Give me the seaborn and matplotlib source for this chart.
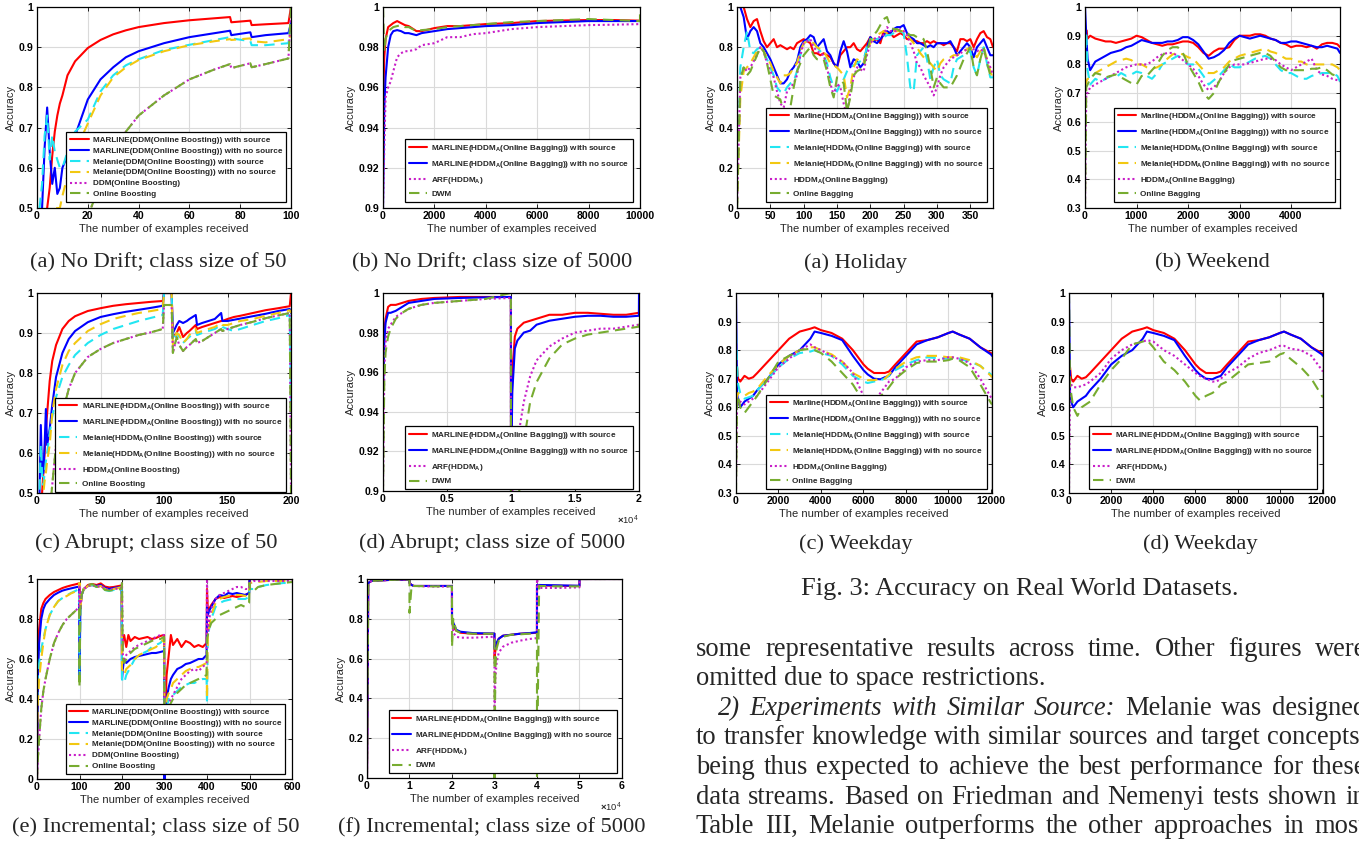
import numpy as np
import pandas as pd
import seaborn as sns
import matplotlib.pyplot as plt
from matplotlib.ticker import FuncFormatter

sns.set_style("white")
plt.rcParams['font.family'] = ['Liberation Sans', 'DejaVu Sans']
plt.rcParams['font.weight'] = 'bold'
plt.rcParams['mathtext.fontset'] = 'custom'
plt.rcParams['mathtext.rm'] = 'Liberation Sans'
plt.rcParams['mathtext.bf'] = 'Liberation Sans:bold'
plt.rcParams['mathtext.it'] = 'Liberation Sans:italic'

W, H = 1359, 850
SERIF = ['Liberation Serif', 'DejaVu Serif']

# ---------------- data ----------------
# (a) no drift, class size 50
a1_x = [1, 2, 3, 4, 5, 6, 7, 8, 9, 10, 12, 15, 20, 25, 30, 35, 40, 50, 60, 70, 76, 76.5, 84, 84.5, 90, 99, 100]
a1_red = [0.40, 0.45, 0.48, 0.50, 0.55, 0.63, 0.69, 0.73, 0.76, 0.78, 0.83, 0.865, 0.898, 0.918, 0.932, 0.942, 0.95,
          0.96, 0.967, 0.972, 0.975, 0.962, 0.966, 0.955, 0.957, 0.96, 1.0]
a1_blue = [0.40, 0.50, 0.65, 0.75, 0.64, 0.56, 0.60, 0.535, 0.55, 0.60, 0.63, 0.68, 0.77, 0.82, 0.85, 0.875, 0.89,
           0.91, 0.925, 0.935, 0.941, 0.93, 0.937, 0.925, 0.93, 0.935, 0.96]
a1_cyan = [0.50, 0.56, 0.68, 0.73, 0.62, 0.68, 0.64, 0.62, 0.60, 0.60, 0.64, 0.69, 0.72, 0.79, 0.83, 0.855, 0.87,
           0.893, 0.906, 0.918, 0.925, 0.922, 0.915, 0.905, 0.905, 0.91, 0.97]
a1_yellow = [0.40, 0.40, 0.40, 0.45, 0.48, 0.50, 0.50, 0.50, 0.50, 0.53, 0.58, 0.64, 0.71, 0.78, 0.825, 0.85, 0.868,
             0.89, 0.905, 0.915, 0.92, 0.918, 0.922, 0.915, 0.912, 0.92, 0.93]
a1_magenta = [0.20, 0.23, 0.26, 0.28, 0.30, 0.32, 0.33, 0.35, 0.36, 0.38, 0.41, 0.44, 0.48, 0.56, 0.64, 0.69, 0.73,
              0.78, 0.82, 0.845, 0.858, 0.848, 0.86, 0.85, 0.858, 0.872, 1.0]
a1_green = a1_magenta

# (b) no drift, class size 5000
a2_x = [0, 50, 100, 200, 300, 400, 550, 700, 850, 1000, 1300, 1500, 2000, 2500, 3000, 3500, 4000, 5000, 6000, 7000,
        8000, 9000, 10000, 10000]
a2_red = [0.95, 0.975, 0.984, 0.99, 0.991, 0.992, 0.993, 0.992, 0.991, 0.9905, 0.988, 0.988, 0.9895, 0.9905, 0.9905,
          0.991, 0.9915, 0.992, 0.993, 0.9933, 0.9935, 0.9935, 0.9932, 0.9932]
a2_blue = [0.90, 0.95, 0.965, 0.98, 0.986, 0.988, 0.9885, 0.988, 0.987, 0.987, 0.986, 0.987, 0.988, 0.989, 0.9895,
           0.99, 0.9905, 0.991, 0.992, 0.9925, 0.993, 0.993, 0.993, 0.993]
a2_magenta = [0.90, 0.93, 0.955, 0.96, 0.963, 0.968, 0.975, 0.977, 0.978, 0.978, 0.979, 0.981, 0.982, 0.985, 0.985,
              0.9865, 0.987, 0.989, 0.99, 0.9905, 0.991, 0.9912, 0.9915, 0.9915]
a2_green = [1.0, 0.978, 0.984, 0.988, 0.989, 0.99, 0.9905, 0.991, 0.99, 0.99, 0.988, 0.9885, 0.989, 0.99, 0.9905,
            0.991, 0.9915, 0.9925, 0.993, 0.9935, 0.994, 0.9935, 0.993, 1.0]

# (a) holiday
r1_x = list(range(0, 381, 5)) + [384]
r1_red = [1.0, 1.0, 1.0, 0.94, 0.9, 0.93, 0.94, 0.88, 0.83, 0.8,
          0.82, 0.84, 0.8, 0.81, 0.8, 0.79, 0.8, 0.79, 0.82, 0.83,
          0.84, 0.83, 0.82, 0.77, 0.77, 0.76, 0.77, 0.76, 0.75, 0.72,
          0.7, 0.76, 0.78, 0.8, 0.8, 0.82, 0.79, 0.78, 0.8, 0.82,
          0.85, 0.83, 0.84, 0.82, 0.88, 0.87, 0.87, 0.85, 0.86, 0.87,
          0.86, 0.84, 0.84, 0.83, 0.83, 0.82, 0.82, 0.83, 0.82, 0.83,
          0.82, 0.82, 0.81, 0.82, 0.82, 0.8, 0.78, 0.84, 0.84, 0.83,
          0.84, 0.8, 0.84, 0.87, 0.88, 0.85, 0.84, 0.8]
r1_blue = [1.0, 1.0, 0.95, 0.84, 0.88, 0.9, 0.88, 0.82, 0.8, 0.77,
           0.74, 0.7, 0.66, 0.62, 0.62, 0.64, 0.68, 0.7, 0.73, 0.8,
           0.83, 0.84, 0.86, 0.85, 0.8, 0.82, 0.84, 0.78, 0.76, 0.72,
           0.7, 0.78, 0.83, 0.78, 0.7, 0.74, 0.73, 0.7, 0.72, 0.8,
           0.85, 0.83, 0.82, 0.84, 0.86, 0.88, 0.87, 0.89, 0.9, 0.9,
           0.91, 0.87, 0.85, 0.84, 0.82, 0.82, 0.81, 0.8, 0.81, 0.8,
           0.82, 0.82, 0.82, 0.82, 0.83, 0.8, 0.76, 0.78, 0.8, 0.82,
           0.8, 0.75, 0.8, 0.82, 0.84, 0.8, 0.76, 0.76]
r1_cyan = [0.0, 0.7, 0.8, 0.88, 0.78, 0.77, 0.79, 0.8, 0.78, 0.74,
           0.7, 0.66, 0.6, 0.58, 0.57, 0.6, 0.62, 0.63, 0.68, 0.76,
           0.82, 0.83, 0.84, 0.82, 0.8, 0.78, 0.76, 0.72, 0.65, 0.6,
           0.58, 0.62, 0.64, 0.68, 0.7, 0.71, 0.72, 0.73, 0.74, 0.8,
           0.84, 0.84, 0.84, 0.85, 0.85, 0.86, 0.86, 0.87, 0.88, 0.88,
           0.87, 0.75, 0.6, 0.58, 0.76, 0.78, 0.8, 0.74, 0.64, 0.7,
           0.74, 0.66, 0.64, 0.63, 0.62, 0.7, 0.74, 0.75, 0.76, 0.77,
           0.78, 0.7, 0.66, 0.74, 0.8, 0.72, 0.65, 0.65]
r1_yellow = [0.0, 0.55, 0.68, 0.7, 0.72, 0.75, 0.78, 0.8, 0.78, 0.75,
             0.72, 0.68, 0.65, 0.62, 0.66, 0.66, 0.67, 0.7, 0.72, 0.78,
             0.82, 0.83, 0.83, 0.82, 0.8, 0.79, 0.78, 0.75, 0.72, 0.71,
             0.7, 0.68, 0.66, 0.55, 0.6, 0.7, 0.74, 0.73, 0.72, 0.78,
             0.82, 0.84, 0.86, 0.87, 0.88, 0.87, 0.87, 0.88, 0.88, 0.88,
             0.88, 0.86, 0.84, 0.82, 0.8, 0.77, 0.75, 0.73, 0.72, 0.7,
             0.68, 0.72, 0.74, 0.75, 0.75, 0.76, 0.76, 0.77, 0.78, 0.79,
             0.8, 0.77, 0.75, 0.78, 0.8, 0.74, 0.68, 0.64]
r1_magenta = [0.0, 0.65, 0.7, 0.68, 0.7, 0.73, 0.76, 0.8, 0.78, 0.72,
              0.68, 0.65, 0.58, 0.52, 0.5, 0.58, 0.6, 0.62, 0.66, 0.76,
              0.82, 0.83, 0.84, 0.8, 0.78, 0.77, 0.76, 0.7, 0.62, 0.56,
              0.62, 0.6, 0.52, 0.46, 0.58, 0.65, 0.7, 0.69, 0.68, 0.76,
              0.82, 0.84, 0.85, 0.85, 0.86, 0.9, 0.88, 0.88, 0.88, 0.89,
              0.88, 0.86, 0.82, 0.78, 0.72, 0.7, 0.66, 0.63, 0.6, 0.56,
              0.6, 0.66, 0.7, 0.72, 0.74, 0.75, 0.76, 0.77, 0.78, 0.79,
              0.8, 0.79, 0.78, 0.79, 0.78, 0.74, 0.7, 0.66]
r1_green = [0.0, 0.64, 0.7, 0.66, 0.68, 0.72, 0.76, 0.8, 0.78, 0.72,
            0.64, 0.56, 0.55, 0.54, 0.48, 0.42, 0.5, 0.6, 0.68, 0.72,
            0.76, 0.78, 0.8, 0.76, 0.74, 0.74, 0.74, 0.68, 0.6, 0.55,
            0.65, 0.64, 0.62, 0.48, 0.55, 0.66, 0.68, 0.69, 0.7, 0.78,
            0.84, 0.86, 0.88, 0.91, 0.94, 0.95, 0.9, 0.89, 0.89, 0.88,
            0.88, 0.87, 0.86, 0.86, 0.85, 0.85, 0.84, 0.78, 0.7, 0.6,
            0.65, 0.62, 0.6, 0.6, 0.6, 0.63, 0.66, 0.7, 0.74, 0.77,
            0.8, 0.7, 0.66, 0.74, 0.8, 0.72, 0.66, 0.64]

# (b) weekend
r2_x = [0, 25, 50, 100] + list(range(200, 4901, 100)) + [4950]
r2_red = [0.85, 0.92, 0.89, 0.9,
          0.89, 0.885, 0.88, 0.88, 0.875, 0.88, 0.885, 0.89, 0.9, 0.895,
          0.885, 0.875, 0.87, 0.865, 0.87, 0.87, 0.875, 0.88, 0.88, 0.875,
          0.86, 0.84, 0.83, 0.845, 0.855, 0.855, 0.86, 0.885, 0.9, 0.9,
          0.9, 0.905, 0.905, 0.9, 0.89, 0.885, 0.875, 0.87, 0.86, 0.865,
          0.865, 0.86, 0.865, 0.855, 0.87, 0.875, 0.875, 0.87,
          0.86]
r2_blue = [1.0, 0.9, 0.82, 0.78,
           0.81, 0.82, 0.83, 0.84, 0.845, 0.85, 0.86, 0.865, 0.875, 0.885,
           0.88, 0.875, 0.875, 0.875, 0.88, 0.88, 0.885, 0.895, 0.895, 0.885,
           0.87, 0.845, 0.82, 0.825, 0.835, 0.85, 0.875, 0.89, 0.9, 0.895,
           0.89, 0.895, 0.9, 0.895, 0.89, 0.885, 0.875, 0.875, 0.88, 0.88,
           0.875, 0.87, 0.865, 0.86, 0.86, 0.865, 0.86, 0.855,
           0.84]
r2_cyan = [0.8, 0.91, 0.78, 0.73,
           0.75, 0.74, 0.75, 0.76, 0.755, 0.77, 0.76, 0.765, 0.775, 0.77,
           0.76, 0.75, 0.77, 0.8, 0.81, 0.82, 0.83, 0.82, 0.8, 0.8,
           0.785, 0.76, 0.73, 0.745, 0.76, 0.78, 0.8, 0.79, 0.79, 0.8,
           0.81, 0.82, 0.825, 0.83, 0.82, 0.8, 0.78, 0.77, 0.77, 0.76,
           0.75, 0.75, 0.76, 0.765, 0.77, 0.77, 0.77, 0.76,
           0.74]
r2_yellow = [0.72, 0.74, 0.75, 0.75,
             0.77, 0.78, 0.79, 0.8, 0.81, 0.815, 0.82, 0.815, 0.8, 0.8,
             0.79, 0.785, 0.79, 0.8, 0.82, 0.835, 0.84, 0.835, 0.825, 0.82,
             0.8, 0.78, 0.77, 0.77, 0.78, 0.79, 0.81, 0.82, 0.83, 0.835,
             0.84, 0.845, 0.85, 0.855, 0.845, 0.84, 0.83, 0.82, 0.82, 0.81,
             0.81, 0.8, 0.8, 0.8, 0.8, 0.8, 0.8, 0.79,
             0.78]
r2_magenta = [0.3, 0.7, 0.7, 0.72,
              0.73, 0.74, 0.75, 0.76, 0.77, 0.78, 0.79, 0.795, 0.8, 0.8,
              0.8, 0.81, 0.825, 0.835, 0.84, 0.84, 0.83, 0.815, 0.8, 0.785,
              0.76, 0.73, 0.71, 0.72, 0.74, 0.77, 0.79, 0.8, 0.8, 0.8,
              0.805, 0.81, 0.815, 0.82, 0.82, 0.815, 0.8, 0.79, 0.78, 0.79,
              0.8, 0.81, 0.82, 0.78, 0.765, 0.76, 0.75, 0.745,
              0.74]
r2_green = [0.3, 0.72, 0.73, 0.75,
            0.77, 0.765, 0.755, 0.76, 0.765, 0.755, 0.745, 0.735, 0.73, 0.76,
            0.76, 0.78, 0.8, 0.83, 0.85, 0.86, 0.86, 0.84, 0.8, 0.77,
            0.74, 0.7, 0.68, 0.7, 0.74, 0.77, 0.8, 0.815, 0.82, 0.825,
            0.83, 0.835, 0.84, 0.84, 0.83, 0.81, 0.79, 0.78, 0.78, 0.78,
            0.78, 0.78, 0.785, 0.785, 0.79, 0.78, 0.765, 0.76,
            0.755]

# (c) abrupt, class size 50
c_x = [1, 2, 3, 4, 5, 6, 7, 8, 10, 12, 15, 20, 25, 30, 40, 50, 60, 70, 80, 90, 99, 100, 105, 106, 107,
       110, 112, 115, 118, 120, 125, 126, 130, 140, 145, 146, 150, 155, 160, 170, 180, 190, 199, 200]
c_red = [0.3, 0.35, 0.4, 0.5, 0.55, 0.6, 0.66, 0.7, 0.78, 0.83, 0.87, 0.91, 0.93, 0.942,
         0.955, 0.962, 0.968, 0.972, 0.975, 0.978, 0.98, 1.0, 1.0, 1.0, 0.89,
         0.9, 0.915, 0.89, 0.9, 0.905, 0.92, 0.91, 0.915,
         0.925, 0.93, 0.93, 0.935, 0.94, 0.943, 0.95, 0.957, 0.962, 0.967, 1.0]
c_blue = [0.3, 0.5, 0.67, 0.55, 0.55, 0.62, 0.71, 0.62, 0.66, 0.72, 0.79, 0.85, 0.885, 0.905,
          0.927, 0.94, 0.947, 0.953, 0.958, 0.963, 0.968, 1.0, 1.0, 1.0, 0.9,
          0.92, 0.93, 0.925, 0.93, 0.935, 0.945, 0.92, 0.925,
          0.935, 0.95, 0.93, 0.93, 0.933, 0.936, 0.942, 0.948, 0.955, 0.96, 0.95]
c_cyan = [0.3, 0.5, 0.62, 0.55, 0.52, 0.55, 0.58, 0.6, 0.65, 0.69, 0.74, 0.79, 0.82, 0.845,
          0.875, 0.895, 0.91, 0.92, 0.93, 0.938, 0.945, 1.0, 1.0, 1.0, 0.88,
          0.9, 0.89, 0.875, 0.885, 0.89, 0.905, 0.895, 0.9,
          0.91, 0.92, 0.915, 0.91, 0.905, 0.91, 0.92, 0.93, 0.937, 0.945, 0.7]
c_yellow = [0.3, 0.35, 0.4, 0.45, 0.5, 0.53, 0.55, 0.58, 0.62, 0.7, 0.76, 0.82, 0.855, 0.875,
            0.905, 0.922, 0.935, 0.943, 0.95, 0.955, 0.96, 1.0, 1.0, 1.0, 0.87,
            0.9, 0.895, 0.875, 0.885, 0.895, 0.91, 0.9, 0.905,
            0.915, 0.925, 0.92, 0.92, 0.925, 0.93, 0.935, 0.943, 0.95, 0.957, 0.95]
c_magenta = [0.2, 0.22, 0.25, 0.27, 0.3, 0.32, 0.35, 0.38, 0.45, 0.52, 0.62, 0.7, 0.76, 0.8,
             0.84, 0.86, 0.875, 0.885, 0.895, 0.902, 0.91, 0.97, 0.97, 0.97, 0.85,
             0.89, 0.87, 0.855, 0.865, 0.87, 0.885, 0.875, 0.88,
             0.9, 0.91, 0.905, 0.91, 0.915, 0.92, 0.928, 0.937, 0.944, 0.95, 0.5]
c_green = c_magenta

# (d) abrupt, class size 5000
d_x = [0, 100, 200, 400, 600, 1000, 1500, 2000, 3000, 4000, 6000, 8000, 9990,
       10000, 10100, 10300, 10500, 11000, 11500, 12000, 13000, 14000, 15000, 16000, 17000, 18000, 19000, 19990, 20000]
d_red = [0.96, 0.98, 0.987, 0.993, 0.994, 0.994, 0.995, 0.996, 0.997, 0.9975, 0.998, 0.998, 0.998,
         0.91, 0.96, 0.978, 0.982, 0.985, 0.986, 0.987, 0.989, 0.989, 0.99, 0.99, 0.9895, 0.989, 0.989, 0.99, 0.99]
d_blue = [0.95, 0.975, 0.985, 0.99, 0.99, 0.991, 0.993, 0.995, 0.996, 0.997, 0.9975, 0.9978, 0.998,
          0.9, 0.95, 0.972, 0.976, 0.98, 0.981, 0.984, 0.986, 0.987, 0.988, 0.9885, 0.9885, 0.988, 0.988, 0.9885, 1.0]
d_magenta = [0.9, 0.96, 0.975, 0.982, 0.984, 0.988, 0.99, 0.992, 0.994, 0.995, 0.996, 0.997, 0.9975,
             0.9, 0.9, 0.91, 0.925, 0.945, 0.958, 0.966, 0.973, 0.977, 0.98, 0.981, 0.982, 0.982, 0.983, 0.984, 0.984]
d_green = [0.9, 0.955, 0.97, 0.978, 0.982, 0.987, 0.99, 0.992, 0.994, 0.995, 0.996, 0.997, 1.0,
           0.9, 0.89, 0.88, 0.89, 0.925, 0.945, 0.955, 0.967, 0.974, 0.977, 0.979, 0.98, 0.981, 0.982, 0.983, 0.985]

# (e) incremental, class size 50
e_x = [0, 2, 5, 10, 15, 20, 30, 40, 50, 60, 70, 80, 90, 99,
       100, 102, 105, 110, 120, 130, 140, 150, 160, 170, 180, 190, 199,
       200, 202, 205, 210, 215, 220, 230, 240, 250, 260, 270, 280, 290, 299,
       300, 302, 305, 310, 315, 320, 330, 340, 350, 360, 370, 380, 390, 399,
       400, 402, 405, 410, 420, 430, 440, 450, 460, 470, 480, 490, 499,
       500, 502, 510, 520, 540, 560, 580, 600]
e_red = [0.0, 0.6, 0.75, 0.85, 0.88, 0.9, 0.92, 0.935, 0.945, 0.955, 0.962, 0.968, 0.973, 0.978,
         0.96, 0.85, 0.92, 0.95, 0.97, 0.975, 0.97, 0.978, 0.962, 0.958, 0.96, 0.964, 0.968,
         0.62, 0.7, 0.72, 0.66, 0.72, 0.69, 0.71, 0.7, 0.705, 0.71, 0.7, 0.705, 0.715, 0.72,
         0.0, 0.35, 0.52, 0.62, 0.72, 0.67, 0.7, 0.66, 0.69, 0.68, 0.66, 0.67, 0.66, 0.68,
         0.95, 0.84, 0.85, 0.87, 0.9, 0.91, 0.905, 0.91, 0.915, 0.91, 0.915, 0.92, 0.93,
         1.0, 1.0, 1.0, 1.0, 1.0, 1.0, 1.0, 1.0]
e_blue = [0.0, 0.5, 0.68, 0.8, 0.85, 0.875, 0.9, 0.92, 0.932, 0.942, 0.948, 0.953, 0.958, 0.962,
          0.5, 0.85, 0.92, 0.95, 0.965, 0.97, 0.965, 0.97, 0.955, 0.95, 0.955, 0.958, 0.962,
          0.5, 0.55, 0.6, 0.58, 0.59, 0.6, 0.61, 0.615, 0.62, 0.625, 0.63, 0.63, 0.635, 0.64,
          0.0, 0.3, 0.4, 0.46, 0.5, 0.52, 0.55, 0.56, 0.575, 0.58, 0.59, 0.6, 0.6, 0.62,
          0.86, 0.82, 0.84, 0.86, 0.9, 0.92, 0.915, 0.93, 0.925, 0.93, 0.925, 0.92, 0.93,
          1.0, 1.0, 1.0, 1.0, 1.0, 1.0, 1.0, 1.0]
e_cyan = [0.3, 0.52, 0.58, 0.65, 0.7, 0.75, 0.82, 0.86, 0.89, 0.905, 0.918, 0.93, 0.94, 0.95,
          0.5, 0.85, 0.92, 0.95, 0.965, 0.97, 0.96, 0.965, 0.945, 0.94, 0.945, 0.95, 0.955,
          0.5, 0.49, 0.48, 0.52, 0.54, 0.56, 0.6, 0.62, 0.63, 0.64, 0.66, 0.67, 0.68, 0.7,
          0.3, 0.33, 0.35, 0.4, 0.42, 0.42, 0.44, 0.46, 0.47, 0.48, 0.48, 0.49, 0.5, 0.5,
          0.38, 0.72, 0.75, 0.8, 0.86, 0.88, 0.89, 0.895, 0.9, 0.9, 0.9, 0.9, 0.91,
          0.96, 0.95, 0.95, 0.96, 0.97, 0.975, 0.98, 0.98]
e_yellow = [0.2, 0.38, 0.5, 0.6, 0.68, 0.75, 0.82, 0.86, 0.89, 0.905, 0.915, 0.928, 0.937, 0.945,
            0.98, 0.85, 0.92, 0.95, 0.965, 0.97, 0.96, 0.965, 0.95, 0.945, 0.95, 0.955, 0.96,
            0.55, 0.54, 0.52, 0.55, 0.56, 0.57, 0.6, 0.62, 0.63, 0.64, 0.65, 0.66, 0.68, 0.7,
            0.3, 0.35, 0.4, 0.43, 0.45, 0.48, 0.5, 0.52, 0.54, 0.55, 0.56, 0.56, 0.57, 0.58,
            0.4, 0.72, 0.76, 0.82, 0.88, 0.9, 0.91, 0.915, 0.92, 0.92, 0.92, 0.915, 0.93,
            0.98, 0.98, 0.985, 0.985, 0.99, 0.99, 0.99, 0.99]
e_magenta = [0.0, 0.1, 0.2, 0.35, 0.44, 0.5, 0.6, 0.68, 0.73, 0.77, 0.8, 0.82, 0.84, 0.86,
             0.97, 0.85, 0.92, 0.95, 0.965, 0.97, 0.96, 0.965, 0.95, 0.948, 0.95, 0.952, 0.955,
             0.98, 0.62, 0.6, 0.62, 0.63, 0.64, 0.66, 0.67, 0.68, 0.69, 0.7, 0.71, 0.72, 0.72,
             0.4, 0.33, 0.32, 0.38, 0.4, 0.42, 0.46, 0.5, 0.52, 0.54, 0.55, 0.54, 0.56, 0.58,
             1.0, 0.72, 0.8, 0.85, 0.9, 0.92, 0.93, 0.94, 0.95, 0.96, 0.96, 0.95, 0.95,
             0.98, 0.98, 0.99, 0.99, 0.99, 0.99, 0.99, 0.99]
e_green = [0.0, 0.1, 0.2, 0.35, 0.44, 0.5, 0.6, 0.68, 0.73, 0.77, 0.8, 0.82, 0.84, 0.86,
           0.46, 0.85, 0.92, 0.95, 0.97, 0.975, 0.96, 0.965, 0.945, 0.942, 0.945, 0.948, 0.95,
           0.98, 0.6, 0.58, 0.6, 0.62, 0.63, 0.65, 0.66, 0.67, 0.68, 0.69, 0.7, 0.7, 0.71,
           0.35, 0.3, 0.3, 0.36, 0.38, 0.4, 0.43, 0.45, 0.47, 0.48, 0.49, 0.5, 0.51, 0.52,
           0.7, 0.72, 0.75, 0.78, 0.8, 0.82, 0.83, 0.84, 0.85, 0.86, 0.87, 0.86, 0.88,
           0.98, 0.94, 0.94, 0.96, 0.97, 0.975, 0.98, 0.985]

# (f) incremental, class size 5000
f_x = [0, 300, 1000, 5000, 9990, 10000, 10500, 11000, 15000, 19990,
       20000, 20300, 21000, 22000, 25000, 29990,
       30000, 30200, 30500, 31000, 32000, 34000, 36000, 38000, 39990,
       40000, 40500, 45000, 49990, 50000, 55000, 60000]
f_red = [0.0, 0.98, 0.99, 0.995, 0.998, 0.98, 0.97, 0.965, 0.965, 0.965,
         0.8, 0.76, 0.74, 0.73, 0.725, 0.725,
         0.6, 0.64, 0.67, 0.7, 0.715, 0.72, 0.725, 0.727, 0.73,
         0.97, 0.968, 0.966, 0.965, 1.0, 1.0, 1.0]
f_blue = [0.0, 0.98, 0.99, 0.995, 0.998, 0.98, 0.97, 0.965, 0.965, 0.965,
          0.8, 0.78, 0.745, 0.735, 0.728, 0.726,
          0.65, 0.67, 0.68, 0.7, 0.715, 0.72, 0.725, 0.728, 0.732,
          0.97, 0.97, 0.968, 0.966, 1.0, 1.0, 1.0]
f_magenta = [0.0, 0.97, 0.99, 0.995, 0.998, 0.98, 0.97, 0.965, 0.962, 0.962,
             0.8, 0.73, 0.71, 0.705, 0.705, 0.71,
             0.3, 0.5, 0.58, 0.63, 0.66, 0.68, 0.69, 0.698, 0.703,
             1.0, 0.955, 0.955, 0.958, 1.0, 1.0, 1.0]
f_green = [0.0, 0.98, 0.99, 0.995, 0.998, 0.83, 0.97, 0.965, 0.963, 0.963,
           0.66, 0.8, 0.74, 0.73, 0.725, 0.725,
           0.0, 0.55, 0.65, 0.69, 0.71, 0.72, 0.722, 0.725, 0.728,
           0.0, 0.965, 0.963, 0.963, 1.0, 1.0, 1.0]

# (c)/(d) weekday
wd_x = [0, 50, 100, 200, 400, 600, 800, 1000,
        1500, 2000, 2500, 3000, 3500, 3700, 4000, 4500, 5000, 5500, 6000, 6200, 6500, 6800,
        7000, 7200, 7500, 8000, 8500, 9000, 9500, 10000, 10200, 10500, 11000, 11500, 12000, 12050]
wd_red = [0.75, 0.74, 0.7, 0.69, 0.71, 0.7, 0.705, 0.72,
          0.76, 0.8, 0.84, 0.865, 0.875, 0.88, 0.87, 0.86, 0.84, 0.8, 0.75, 0.735, 0.72, 0.72,
          0.72, 0.725, 0.75, 0.79, 0.83, 0.835, 0.845, 0.86, 0.865, 0.855, 0.84, 0.81, 0.79, 0.785]
wd_blue = [1.0, 0.65, 0.62, 0.6, 0.62, 0.63, 0.64, 0.66,
           0.7, 0.75, 0.78, 0.8, 0.84, 0.865, 0.86, 0.85, 0.835, 0.78, 0.73, 0.715, 0.7, 0.698,
           0.705, 0.71, 0.74, 0.78, 0.82, 0.835, 0.845, 0.86, 0.865, 0.855, 0.84, 0.81, 0.785, 0.78]
wd_cyan = [0.86, 0.75, 0.68, 0.65, 0.63, 0.635, 0.64, 0.66,
           0.7, 0.74, 0.77, 0.79, 0.795, 0.8, 0.79, 0.78, 0.75, 0.71, 0.69, 0.685, 0.69, 0.695,
           0.7, 0.71, 0.73, 0.75, 0.765, 0.775, 0.772, 0.77, 0.77, 0.77, 0.76, 0.745, 0.715, 0.71]
wd_yellow = [0.62, 0.64, 0.65, 0.645, 0.64, 0.65, 0.655, 0.665,
             0.71, 0.75, 0.78, 0.8, 0.81, 0.81, 0.8, 0.785, 0.76, 0.72, 0.7, 0.695, 0.695, 0.7,
             0.7, 0.715, 0.735, 0.76, 0.775, 0.78, 0.78, 0.775, 0.775, 0.775, 0.765, 0.745, 0.71, 0.705]
wd_magenta = [0.34, 0.6, 0.62, 0.62, 0.61, 0.62, 0.63, 0.64,
              0.69, 0.74, 0.77, 0.8, 0.82, 0.81, 0.8, 0.78, 0.76, 0.72, 0.64, 0.63, 0.63, 0.65,
              0.67, 0.69, 0.7, 0.74, 0.76, 0.765, 0.765, 0.775, 0.775, 0.77, 0.755, 0.7, 0.635, 0.63]
wd_green = [0.3, 0.62, 0.64, 0.6, 0.58, 0.6, 0.62, 0.64,
            0.7, 0.76, 0.78, 0.8, 0.805, 0.8, 0.79, 0.76, 0.72, 0.68, 0.62, 0.62, 0.635, 0.64,
            0.65, 0.67, 0.7, 0.73, 0.755, 0.76, 0.76, 0.765, 0.77, 0.765, 0.74, 0.68, 0.615, 0.61]
wd_arf = [0.3, 0.7, 0.68, 0.67, 0.67, 0.675, 0.68, 0.69,
          0.72, 0.77, 0.8, 0.82, 0.83, 0.835, 0.83, 0.8, 0.78, 0.75, 0.72, 0.71, 0.7, 0.69,
          0.69, 0.7, 0.72, 0.74, 0.77, 0.79, 0.8, 0.815, 0.815, 0.805, 0.8, 0.78, 0.73, 0.725]
wd_dwm = [1.0, 0.68, 0.65, 0.6, 0.57, 0.6, 0.61, 0.62,
          0.68, 0.73, 0.77, 0.82, 0.83, 0.835, 0.81, 0.76, 0.73, 0.69, 0.64, 0.625, 0.64, 0.65,
          0.66, 0.68, 0.69, 0.72, 0.75, 0.755, 0.76, 0.785, 0.79, 0.77, 0.74, 0.7, 0.64, 0.635]

# legend texts
sub = r'$_\mathbf{A}$'
lab_ddm = ['MARLINE(DDM(Online Boosting)) with source', 'MARLINE(DDM(Online Boosting)) with no source',
           'Melanie(DDM(Online Boosting)) with source', 'Melanie(DDM(Online Boosting)) with no source',
           'DDM(Online Boosting)', 'Online Boosting']
lab_hb = ['MARLINE(HDDM' + sub + '(Online Boosting)) with source',
          'MARLINE(HDDM' + sub + '(Online Boosting)) with no source',
          'Melanie(HDDM' + sub + '(Online Boosting)) with source',
          'Melanie(HDDM' + sub + '(Online Boosting)) with no source',
          'HDDM' + sub + '(Online Boosting)', 'Online Boosting']
lab_arf = ['MARLINE(HDDM' + sub + '(Online Bagging)) with source',
           'MARLINE(HDDM' + sub + '(Online Bagging)) with no source',
           'ARF(HDDM' + sub + ')', 'DWM']
lab_real = ['Marline(HDDM' + sub + '(Online Bagging)) with source',
            'Marline(HDDM' + sub + '(Online Bagging)) with no source',
            'Melanie(HDDM' + sub + '(Online Bagging)) with source',
            'Melanie(HDDM' + sub + '(Online Bagging)) with no source',
            'HDDM' + sub + '(Online Bagging)', 'Online Bagging']

STY = {
    'red': dict(color='#FF0000', linestyle='-'),
    'blue': dict(color='#0000FF', linestyle='-'),
    'cyan': dict(color='#22E6F2', linestyle=(0, (5, 3))),
    'yellow': dict(color='#F2C811', linestyle=(0, (5, 3))),
    'magenta': dict(color='#C81EC8', linestyle=(0, (1, 1.3))),
    'green': dict(color='#77AC30', linestyle=(0, (5, 3))),
}
six = ['red', 'blue', 'cyan', 'yellow', 'magenta', 'green']
four = ['red', 'blue', 'magenta', 'green']


def make_ax(fig, l, t, r, b):
    return fig.add_axes([l / W, 1 - b / H, (r - l) / W, (b - t) / H])


def panel(ax, x, ys, keys, labels, xlim, xticks, ylim, yticks, anchor, spacing, xscale=1):
    for y, k, lab in zip(ys, keys, labels):
        d = pd.DataFrame({'x': x, 'y': y})
        sns.lineplot(data=d, x='x', y='y', ax=ax, estimator=None, sort=False,
                     label=lab, linewidth=1.5, **STY[k])
    ax.set_xlim(*xlim)
    ax.set_ylim(*ylim)
    ax.set_xticks(xticks)
    ax.set_yticks(yticks)
    ax.xaxis.set_major_formatter(FuncFormatter(lambda v, p: '%g' % (v / xscale)))
    ax.yaxis.set_major_formatter(FuncFormatter(lambda v, p: '%g' % round(v, 3)))
    ax.grid(True, color='#DADADA', linewidth=0.8)
    ax.set_axisbelow(True)
    ax.tick_params(direction='in', length=3, width=0.6, top=True, right=True, bottom=True, left=True,
                   pad=2.5, labelsize=7.6, colors='black')
    for lab in ax.get_xticklabels() + ax.get_yticklabels():
        lab.set_fontweight('bold')
    for s in ax.spines.values():
        s.set_color('black')
        s.set_linewidth(0.9)
    ax.set_xlabel('The number of examples received', fontsize=8, labelpad=1.5)
    ax.set_ylabel('Accuracy', fontsize=8, labelpad=2)
    leg = ax.legend(loc='lower right', bbox_to_anchor=anchor, borderaxespad=0, fancybox=False,
                    framealpha=1, edgecolor='black', fontsize=5.85, handlelength=2.3,
                    handletextpad=0.5, labelspacing=spacing, borderpad=0.45)
    leg.get_frame().set_linewidth(0.9)
    if xscale != 1:
        ax.text(1.0, -0.115, r'$\times\mathregular{10^4}$', transform=ax.transAxes,
                ha='right', va='top', fontsize=6.8, fontweight='normal')


fig = plt.figure(figsize=(W / 100, H / 100), dpi=100)

ax = make_ax(fig, 37, 7, 291, 208)
panel(ax, a1_x, [a1_red, a1_blue, a1_cyan, a1_yellow, a1_magenta, a1_green], six, lab_ddm,
      (0, 100), [0, 20, 40, 60, 80, 100], (0.5, 1), [0.5, 0.6, 0.7, 0.8, 0.9, 1.0], (0.98, 0.03), 0.4)

ax = make_ax(fig, 383, 7, 640, 208)
panel(ax, a2_x, [a2_red, a2_blue, a2_magenta, a2_green], four, lab_arf,
      (0, 10000), [0, 2000, 4000, 6000, 8000, 10000], (0.9, 1), [0.9, 0.92, 0.94, 0.96, 0.98, 1.0],
      (0.973, 0.03), 0.62)

ax = make_ax(fig, 737, 7, 993, 208)
panel(ax, r1_x, [r1_red, r1_blue, r1_cyan, r1_yellow, r1_magenta, r1_green], six, lab_real,
      (0, 384), [0, 50, 100, 150, 200, 250, 300, 350], (0, 1), [0, 0.2, 0.4, 0.6, 0.8, 1.0],
      (0.977, 0.03), 0.6)

ax = make_ax(fig, 1085, 7, 1340, 208)
panel(ax, r2_x, [r2_red, r2_blue, r2_cyan, r2_yellow, r2_magenta, r2_green], six, lab_real,
      (0, 4950), [0, 1000, 2000, 3000, 4000], (0.3, 1), [0.3, 0.4, 0.5, 0.6, 0.7, 0.8, 0.9, 1.0],
      (0.98, 0.03), 0.6)

ax = make_ax(fig, 37, 293, 291, 493)
panel(ax, c_x, [c_red, c_blue, c_cyan, c_yellow, c_magenta, c_green], six, lab_hb,
      (0, 200), [0, 50, 100, 150, 200], (0.5, 1), [0.5, 0.6, 0.7, 0.8, 0.9, 1.0], (0.98, 0.005), 0.6)

ax = make_ax(fig, 383, 293, 639, 491)
panel(ax, d_x, [d_red, d_blue, d_magenta, d_green], four, lab_arf,
      (0, 20000), [0, 5000, 10000, 15000, 20000], (0.9, 1), [0.9, 0.92, 0.94, 0.96, 0.98, 1.0],
      (0.977, 0.01), 0.62, xscale=1e4)

ax = make_ax(fig, 736, 293, 992, 493)
panel(ax, wd_x, [wd_red, wd_blue, wd_cyan, wd_yellow, wd_magenta, wd_green], six, lab_real,
      (0, 12050), [0, 2000, 4000, 6000, 8000, 10000, 12000], (0.3, 1),
      [0.3, 0.4, 0.5, 0.6, 0.7, 0.8, 0.9, 1.0], (0.98, 0.02), 0.6)

ax = make_ax(fig, 1069, 293, 1323, 493)
panel(ax, wd_x, [wd_red, wd_blue, wd_arf, wd_dwm], four, lab_arf,
      (0, 12050), [0, 2000, 4000, 6000, 8000, 10000, 12000], (0.3, 1),
      [0.3, 0.4, 0.5, 0.6, 0.7, 0.8, 0.9, 1.0], (0.976, 0.02), 0.62)

ax = make_ax(fig, 37, 579, 292, 779)
panel(ax, e_x, [e_red, e_blue, e_cyan, e_yellow, e_magenta, e_green], six, lab_ddm,
      (0, 600), [0, 100, 200, 300, 400, 500, 600], (0, 1), [0, 0.2, 0.4, 0.6, 0.8, 1.0], (0.973, 0.025), 0.4)

ax = make_ax(fig, 367, 579, 622, 778)
panel(ax, f_x, [f_red, f_blue, f_magenta, f_green], four, lab_arf,
      (0, 60000), [0, 10000, 20000, 30000, 40000, 50000, 60000], (0, 1), [0, 0.2, 0.4, 0.6, 0.8, 1.0],
      (0.98, 0.025), 0.62, xscale=1e4)

# sub-captions
captions = [(158, 263, '(a) No Drift; class size of 50'), (492, 263, '(b) No Drift; class size of 5000'),
            (856, 263, '(a) Holiday'), (1212, 263, '(b) Weekend'),
            (156, 543, '(c) Abrupt; class size of 50'), (492, 543, '(d) Abrupt; class size of 5000'),
            (856, 544, '(c) Weekday'), (1200, 544, '(d) Weekday'),
            (156, 828, '(e) Incremental; class size of 50'), (492, 828, '(f) Incremental; class size of 5000')]
for cx, cy, s in captions:
    fig.text(cx / W, 1 - cy / H, s, ha='center', va='center', family=SERIF, fontsize=16.2, fontweight='normal')

fig.text(1020 / W, 1 - 589 / H, 'Fig. 3: Accuracy on Real World Datasets.', ha='center', va='center',
         family=SERIF, fontsize=19, fontweight='normal')

# body text, justified lines running off the right edge as in the page
body = ['some representative results across time. Other figures were',
        'omitted due to space restrictions.',
        '2) Experiments with Similar Source: Melanie was designed',
        'to transfer knowledge with similar sources and target concepts,',
        'being thus expected to achieve the best performance for these',
        'data streams. Based on Friedman and Nemenyi tests shown in',
        'Table III, Melanie outperforms the other approaches in most']
body_italic = [0, 0, 5, 0, 0, 0, 0]
body_justify = [True, False, True, True, True, True, True]
body_x0 = [696, 696, 718, 696, 696, 696, 696]

renderer = fig.canvas.get_renderer()
size = 19.1
for i, line in enumerate(body):
    y = 649 + 29.6 * i
    words = line.split(' ')
    objs = []
    for j, w in enumerate(words):
        objs.append(fig.text(0, 1 - y / H, w, family=SERIF, fontsize=size, fontweight='normal',
                             style='italic' if j < body_italic[i] else 'normal', va='center'))
    widths = [t.get_window_extent(renderer).width for t in objs]
    gap = size * 100 / 72 * 0.25
    if body_justify[i]:
        gap = max(gap, (1366 - body_x0[i] - sum(widths)) / (len(words) - 1))
    xx = body_x0[i]
    for t, wd in zip(objs, widths):
        t.set_x(xx / W)
        xx += wd + gap

fig.savefig('out.png', dpi=100)
